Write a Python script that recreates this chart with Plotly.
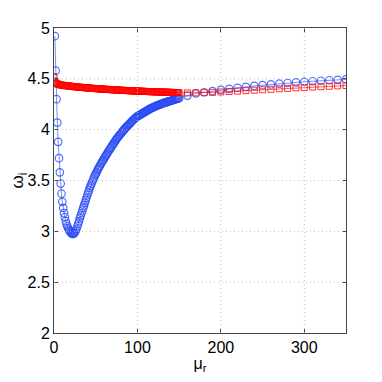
import plotly.graph_objects as go

# dense sampling 0..150, then every 10 up to 350
mu_blue = list(range(1, 151)) + list(range(160, 351, 10))
mu_red = list(range(0, 151)) + list(range(160, 351, 10))

omega_blue = [
    4.92, 4.58, 4.30, 4.07, 3.88, 3.72, 3.58, 3.47, 3.37, 3.29,
    3.23, 3.18, 3.14, 3.10, 3.07, 3.05, 3.03, 3.015, 3.00, 2.99,
    2.98, 2.975, 2.975, 2.98, 2.99, 3.005, 3.025, 3.05, 3.075, 3.10,
    3.13, 3.155, 3.18, 3.205, 3.23, 3.255, 3.28, 3.305, 3.33, 3.355,
    3.38, 3.405, 3.43, 3.45, 3.47, 3.49, 3.51, 3.53, 3.55, 3.565,
    3.58, 3.60, 3.615, 3.63, 3.645, 3.66, 3.675, 3.69, 3.70, 3.715,
    3.73, 3.745, 3.755, 3.77, 3.785, 3.795, 3.81, 3.82, 3.835, 3.845,
    3.86, 3.87, 3.885, 3.895, 3.91, 3.92, 3.93, 3.94, 3.95, 3.96,
    3.97, 3.98, 3.99, 4.00, 4.01, 4.02, 4.03, 4.035, 4.045, 4.055,
    4.06, 4.07, 4.08, 4.09, 4.095, 4.105, 4.11, 4.12, 4.125, 4.13,
    4.135, 4.14, 4.145, 4.15, 4.155, 4.16, 4.165, 4.17, 4.175, 4.18,
    4.185, 4.19, 4.195, 4.20, 4.205, 4.21, 4.213, 4.216, 4.22, 4.225,
    4.228, 4.231, 4.235, 4.239, 4.242, 4.245, 4.248, 4.251, 4.254, 4.257,
    4.26, 4.263, 4.266, 4.268, 4.271, 4.274, 4.277, 4.279, 4.282, 4.284,
    4.287, 4.289, 4.292, 4.294, 4.297, 4.299, 4.302, 4.304, 4.307, 4.31,
    # coarse part, 160..350
    4.335, 4.356, 4.368, 4.38, 4.392, 4.402, 4.412, 4.421, 4.43, 4.438,
    4.445, 4.452, 4.459, 4.465, 4.471, 4.476, 4.481, 4.486, 4.49, 4.494,
]

omega_red = [
    4.52, 4.475, 4.462, 4.455, 4.45, 4.447, 4.444, 4.442, 4.44, 4.438,
    4.437, 4.436, 4.435, 4.434, 4.433, 4.432, 4.431, 4.43, 4.429, 4.428,
    4.427, 4.426, 4.425, 4.424, 4.423, 4.422, 4.422, 4.421, 4.42, 4.419,
    4.418, 4.417, 4.417, 4.416, 4.415, 4.414, 4.414, 4.413, 4.412, 4.411,
    4.411, 4.41, 4.409, 4.409, 4.408, 4.407, 4.407, 4.406, 4.405, 4.405,
    4.404, 4.403, 4.403, 4.402, 4.402, 4.401, 4.40, 4.40, 4.399, 4.399,
    4.398, 4.398, 4.397, 4.396, 4.396, 4.395, 4.395, 4.394, 4.394, 4.393,
    4.393, 4.392, 4.392, 4.391, 4.391, 4.39, 4.39, 4.389, 4.389, 4.388,
    4.388, 4.387, 4.387, 4.386, 4.386, 4.386, 4.385, 4.385, 4.384, 4.384,
    4.383, 4.383, 4.383, 4.382, 4.382, 4.381, 4.381, 4.381, 4.38, 4.38,
    4.38, 4.379, 4.379, 4.378, 4.378, 4.378, 4.377, 4.377, 4.377, 4.376,
    4.376, 4.376, 4.375, 4.375, 4.375, 4.374, 4.374, 4.374, 4.373, 4.373,
    4.373, 4.372, 4.372, 4.372, 4.371, 4.371, 4.371, 4.37, 4.37, 4.37,
    4.37, 4.369, 4.369, 4.369, 4.368, 4.368, 4.368, 4.368, 4.367, 4.367,
    4.367, 4.366, 4.366, 4.366, 4.366, 4.365, 4.365, 4.365, 4.365, 4.364,
    4.364,
    # coarse part, 160..350
    4.362, 4.362, 4.364, 4.367, 4.371, 4.375, 4.379, 4.384, 4.388, 4.393,
    4.397, 4.402, 4.406, 4.411, 4.415, 4.419, 4.423, 4.427, 4.431, 4.434,
]

x_ticks = [0, 100, 200, 300]
y_ticks = [2, 2.5, 3, 3.5, 4, 4.5, 5]
y_tick_text = ["2", "2.5", "3", "3.5", "4", "4.5", "5"]

BLUE = "rgba(40,75,245,0.8)"
RED = "rgba(255,0,0,0.8)"
FONT = "Liberation Sans, Arial, sans-serif"

fig = go.Figure()
fig.add_trace(go.Scatter(
    x=mu_blue, y=omega_blue, mode="lines+markers",
    line=dict(color=BLUE, width=0.8),
    marker=dict(symbol="circle-open", size=7.5, color=BLUE, line=dict(width=1.2)),
    showlegend=False,
))
fig.add_trace(go.Scatter(
    x=mu_red, y=omega_red, mode="lines+markers",
    line=dict(color=RED, width=0.8),
    marker=dict(symbol="square-open", size=6, color=RED, line=dict(width=1)),
    showlegend=False,
))

# dotted grid drawn over the data, like the original
grid = dict(color="#bdbdbd", width=1, dash="1px,3px")
for xv in x_ticks[1:]:
    fig.add_shape(type="line", xref="x", yref="paper", x0=xv, x1=xv, y0=0, y1=1,
                  line=grid, layer="above")
for yv in y_ticks[1:-1]:
    fig.add_shape(type="line", xref="paper", yref="y", x0=0, x1=1, y0=yv, y1=yv,
                  line=grid, layer="above")

axis_common = dict(
    showgrid=False, zeroline=False, showline=True, linecolor="#444", linewidth=1,
    mirror="ticks", ticks="inside", ticklen=4, tickcolor="#444", automargin=False,
    tickfont=dict(family=FONT, size=16, color="black"),
)
fig.update_xaxes(
    range=[0, 350], tickvals=x_ticks,
    title=dict(text="μ<sub>r</sub>", font=dict(family=FONT, size=16, color="black"), standoff=2),
    **axis_common,
)
fig.update_yaxes(
    range=[2, 5], tickvals=y_ticks, ticktext=y_tick_text,
    title=dict(text="ω<sub>i</sub>", font=dict(family=FONT, size=17, color="black"), standoff=14),
    **axis_common,
)
# page body adds an 8px offset, so the figure is 374 px and margins are shifted
fig.update_layout(
    width=374, height=374,
    margin=dict(l=46, r=36, t=20, b=49),
    paper_bgcolor="white", plot_bgcolor="white",
    font=dict(family=FONT),
)

fig.write_html("out.html")
